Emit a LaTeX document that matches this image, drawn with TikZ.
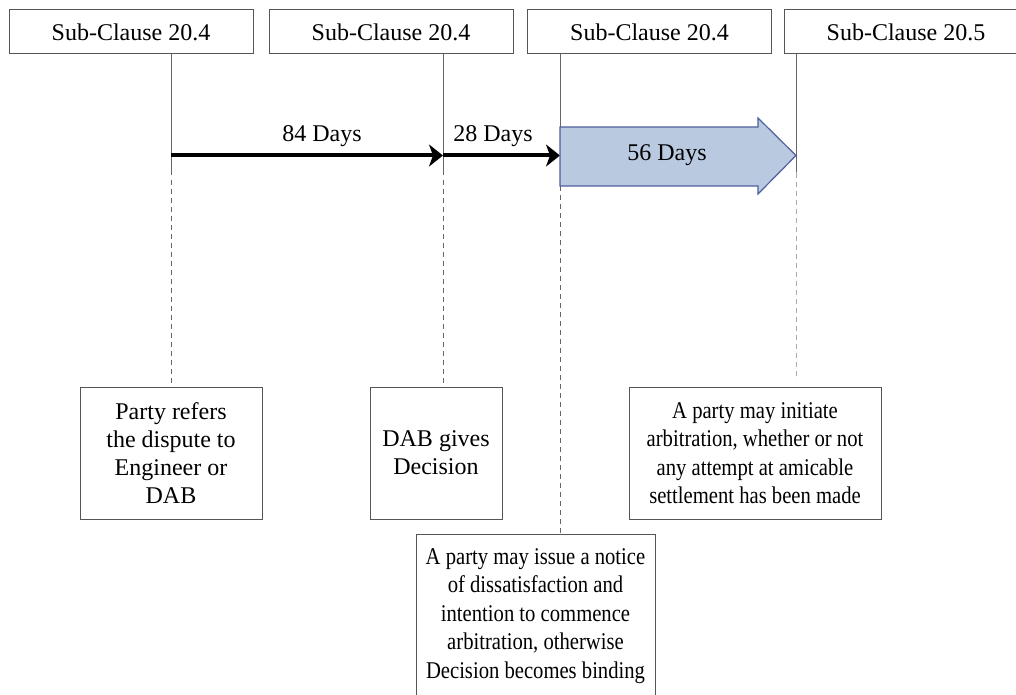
\documentclass[tikz,border=0pt]{standalone}
\usepackage{fontspec}
\setmainfont{Liberation Serif}
\newfontfamily\narrowserif[FakeStretch=0.86]{Liberation Serif}
\usetikzlibrary{arrows.meta}
\definecolor{boxline}{HTML}{555555}
\definecolor{blockfill}{HTML}{B9C9E0}
\definecolor{blockline}{HTML}{4F5FA0}
\definecolor{guide}{HTML}{666666}
\definecolor{guidelight}{HTML}{AAAAAA}
\begin{document}
\begin{tikzpicture}[x=1pt,y=-1pt,
  clausebox/.style={draw=boxline, line width=1pt, minimum width=244pt, minimum height=44pt,
    inner sep=0pt, font=\fontsize{24}{27}\selectfont},
  notebox/.style={draw=boxline, line width=1pt, inner sep=0pt, align=center,
    font=\fontsize{24}{28}\selectfont},
  narrowtext/.style={font=\narrowserif\fontsize{24}{28.5}\selectfont},
  guideline/.style={draw=guide, line width=0.9pt},
  guidedash/.style={draw=guide, line width=0.9pt, dash pattern=on 5pt off 4pt},
  faintdash/.style={draw=guidelight, line width=0.9pt, dash pattern=on 5pt off 4pt},
  period/.style={line width=4pt, -{Stealth[length=14pt,width=22pt,inset=4pt]}},
  periodlabel/.style={font=\fontsize{24}{27}\selectfont, inner sep=0pt},
  blockarrow/.style={fill=blockfill, draw=blockline, line width=1.2pt, line join=miter}
]
\useasboundingbox (0,0) rectangle (1016,695);
\clip (0,0) rectangle (1016,695);

% clause headers
\node[clausebox] (c1) at (131,32) {Sub-Clause 20.4};
\node[clausebox] (c2) at (391,32) {Sub-Clause 20.4};
\node[clausebox] (c3) at (649.5,32) {Sub-Clause 20.4};
\node[clausebox] (c4) at (906,32) {Sub-Clause 20.5};

% points on the time line
\coordinate (t1) at (171,155.5);
\coordinate (t2) at (443,155.5);
\coordinate (t3) at (560,155.5);
\coordinate (t4) at (796,155.5);

% event descriptions
\node[notebox, minimum width=182pt, minimum height=132pt] (n1) at (171,453)
  {Party refers\\the dispute to\\Engineer or\\DAB};
\node[notebox, minimum width=132pt, minimum height=132pt] (n2) at (436,453)
  {DAB gives\\Decision};
\node[notebox, narrowtext, minimum width=252pt, minimum height=132pt] (n4) at (755,453)
  {A party may initiate\\arbitration, whether or not\\any attempt at amicable\\settlement has been made};
\node[notebox, narrowtext, minimum width=239pt, minimum height=164pt] (n3) at (535.5,616)
  {A party may issue a notice\\of dissatisfaction and\\intention to commence\\arbitration, otherwise\\Decision becomes binding};

% guide lines from the headers down to the descriptions
\draw[guideline] (c1.south -| t1) -- ([yshift=-15pt]t1);
\draw[guidedash] ([yshift=-15pt]t1) -- (n1.north -| t1);
\draw[guideline] (c2.south -| t2) -- ([yshift=-15pt]t2);
\draw[guidedash] ([yshift=-15pt]t2) -- (n2.north -| t2);
\draw[guideline] (c3.south -| t3) -- ([yshift=28.5pt]t3);
\draw[guidedash] ([yshift=-30.5pt]t3) -- (n3.north -| t3);
\draw[guideline] (c4.south -| t4) -- ([yshift=-17pt]t4);
\draw[faintdash] ([yshift=-17pt]t4) -- ([yshift=7pt]n4.north -| t4);

% periods
\draw[period] (t1) -- (t2);
\draw[period] (t2) -- (t3);
\node[periodlabel] (l1) at (322,136) {84 Days};
\node[periodlabel] (l2) at (493,136) {28 Days};

% 56 day block arrow
\draw[blockarrow] ([yshift=28.5pt]t3) -- ([xshift=-38pt,yshift=28.5pt]t4)
  -- ([xshift=-38pt,yshift=37.5pt]t4) -- (t4)
  -- ([xshift=-38pt,yshift=-38.5pt]t4) -- ([xshift=-38pt,yshift=-30.5pt]t4)
  -- ([yshift=-30.5pt]t3) -- cycle;
\node[periodlabel] (l3) at (667,155) {56 Days};
\end{tikzpicture}
\end{document}
